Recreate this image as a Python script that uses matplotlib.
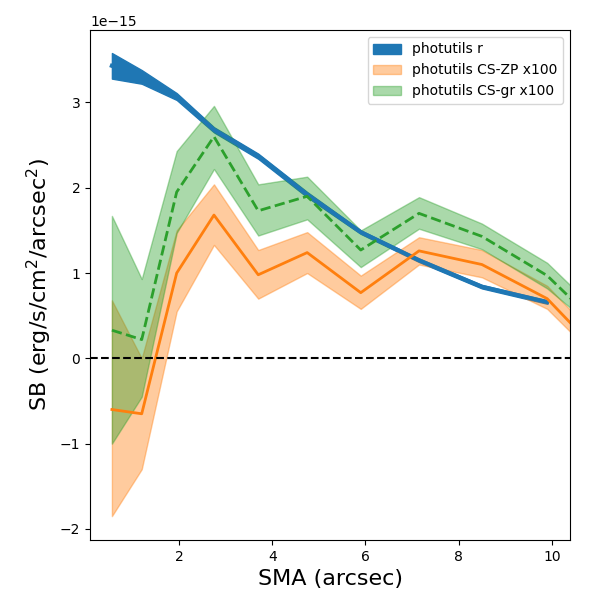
import numpy as np
import matplotlib
matplotlib.use('Agg')
import matplotlib.pyplot as plt

sma_r = np.array([0.56, 1.2, 1.95, 2.75, 3.7, 4.75, 5.9, 7.15, 8.5, 9.9])
r_mid = np.array([3.43, 3.3, 3.07, 2.68, 2.37, 1.92, 1.48, 1.15, 0.84, 0.66])
r_lo = np.array([3.28, 3.22, 3.03, 2.65, 2.34, 1.89, 1.46, 1.13, 0.82, 0.64])
r_hi = np.array([3.58, 3.38, 3.11, 2.71, 2.40, 1.95, 1.50, 1.17, 0.86, 0.68])

sma = np.array([0.56, 1.2, 1.95, 2.75, 3.7, 4.75, 5.9, 7.15, 8.5, 9.9, 10.6])
zp_mid = np.array([-0.6, -0.65, 1.0, 1.68, 0.98, 1.24, 0.77, 1.26, 1.1, 0.7, 0.3])
zp_lo = np.array([-1.85, -1.3, 0.55, 1.33, 0.7, 1.0, 0.58, 1.1, 0.95, 0.58, 0.2])
zp_hi = np.array([0.68, 0.0, 1.5, 2.04, 1.27, 1.48, 0.97, 1.42, 1.27, 0.85, 0.45])
gr_mid = np.array([0.33, 0.22, 1.95, 2.6, 1.73, 1.9, 1.27, 1.7, 1.43, 0.97, 0.6])
gr_lo = np.array([-1.0, -0.45, 1.47, 2.22, 1.44, 1.63, 1.07, 1.52, 1.28, 0.82, 0.5])
gr_hi = np.array([1.67, 0.93, 2.43, 2.96, 2.04, 2.13, 1.5, 1.89, 1.58, 1.12, 0.75])

s = 1e-15
fig, ax = plt.subplots(figsize=(6, 6), dpi=100)
ax.fill_between(sma_r, r_lo*s, r_hi*s, color='C0', label='photutils r')
ax.plot(sma_r, r_mid*s, color='C0', lw=3)
ax.fill_between(sma, zp_lo*s, zp_hi*s, color='C1', alpha=0.4, label='photutils CS-ZP x100')
ax.plot(sma, zp_mid*s, color='C1', lw=2)
ax.fill_between(sma, gr_lo*s, gr_hi*s, color='C2', alpha=0.4, label='photutils CS-gr x100')
ax.plot(sma, gr_mid*s, color='C2', lw=2, ls='--')
ax.axhline(0, color='k', ls='--')
ax.set_xlim(0.09, 10.39)
ax.set_ylim(-2.13e-15, 3.85e-15)
ax.set_xlabel('SMA (arcsec)', fontsize=16)
ax.set_ylabel('SB (erg/s/cm$^2$/arcsec$^2$)', fontsize=16)
ax.legend(loc='upper right')
fig.subplots_adjust(left=0.15, right=0.95, top=0.95, bottom=0.1)
plt.savefig('out.png')
